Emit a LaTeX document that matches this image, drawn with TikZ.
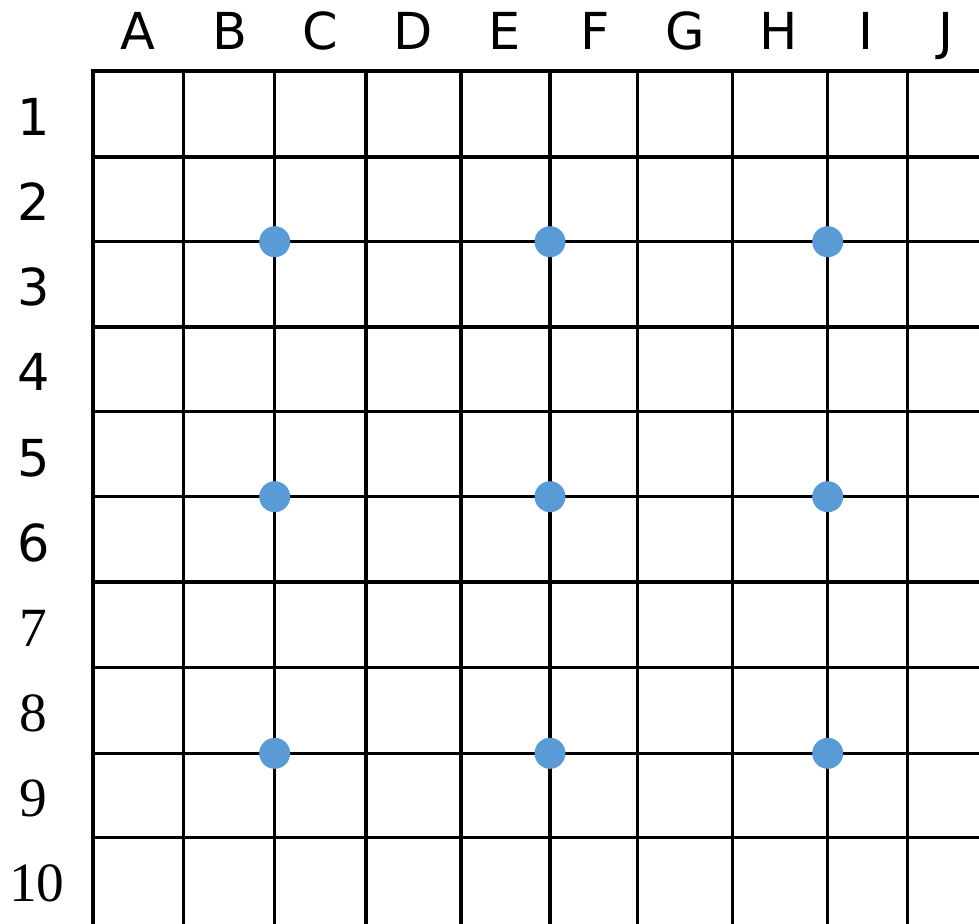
\documentclass[tikz,border=0pt]{standalone}
\usepackage{fontspec}
\newfontfamily\gridsans{DejaVu Sans}
\newfontfamily\gridserif{Liberation Serif}
\definecolor{dotblue}{HTML}{5B9BD5}

\begin{document}
\begin{tikzpicture}[x=0.02cm, y=-0.02cm,
    gline/.style={line width=1.8pt, line cap=rect, black},
    bold gline/.style={line width=2.45pt, line cap=rect, black},
    collbl/.style={anchor=base, inner sep=0pt, font=\gridsans\fontsize{29}{29}\selectfont},
    rowlbl/.style={anchor=base, inner sep=0pt, font=\gridsans\fontsize{29}{29}\selectfont},
    rowlblserif/.style={anchor=base, inner sep=0pt, font=\gridserif\fontsize{31.5}{31.5}\selectfont},
    stone/.style={circle, fill=dotblue, inner sep=0pt, minimum size=0.62cm}]

\useasboundingbox (0,0) rectangle (979,923);
\clip (0,0) rectangle (979,923);

% === Grid lines ===
\foreach \x/\w [count=\i] in {92.7/bold gline, 183.7/gline, 274.7/gline, 366/bold gline,
    461/gline, 550/bold gline, 637.7/gline, 732.3/gline, 827.7/gline, 907.7/gline}
  \draw[\w] (\x,71) coordinate (top-\i) -- (\x,940) coordinate (bot-\i);
\foreach \y/\w [count=\j] in {71/gline, 156.7/bold gline, 241.7/gline, 326.7/bold gline,
    411.7/gline, 496.7/gline, 582/bold gline, 667.7/gline, 753.3/gline, 837.7/gline}
  \draw[\w] (92.7,\y) coordinate (lft-\j) -- (995,\y) coordinate (rgt-\j);

% === Column labels ===
\foreach \lbl/\x in {A/138, B/230, C/320, D/413, E/505, F/595, G/685, H/779, I/866, J/946}
  \node[collbl] (col-\lbl) at (\x,49.3) {\lbl};

% === Row labels ===
\foreach \lbl/\y in {1/135, 2/220, 3/305, 4/390, 5/476.7, 6/561.7}
  \node[rowlbl] (row-\lbl) at (33.5,\y) {\lbl};
\foreach \lbl/\y in {7/646, 8/731.7, 9/816.7}
  \node[rowlblserif] (row-\lbl) at (33.5,\y) {\lbl};
\node[rowlblserif] (row-10) at (36.7,901.7) {10};

% === Star points ===
\foreach \x [count=\i] in {274.7, 550, 827.7}
  \foreach \y [count=\j] in {241.7, 496.7, 753.3}
    \node[stone] (stone-\i-\j) at (\x,\y) {};

\end{tikzpicture}
\end{document}
